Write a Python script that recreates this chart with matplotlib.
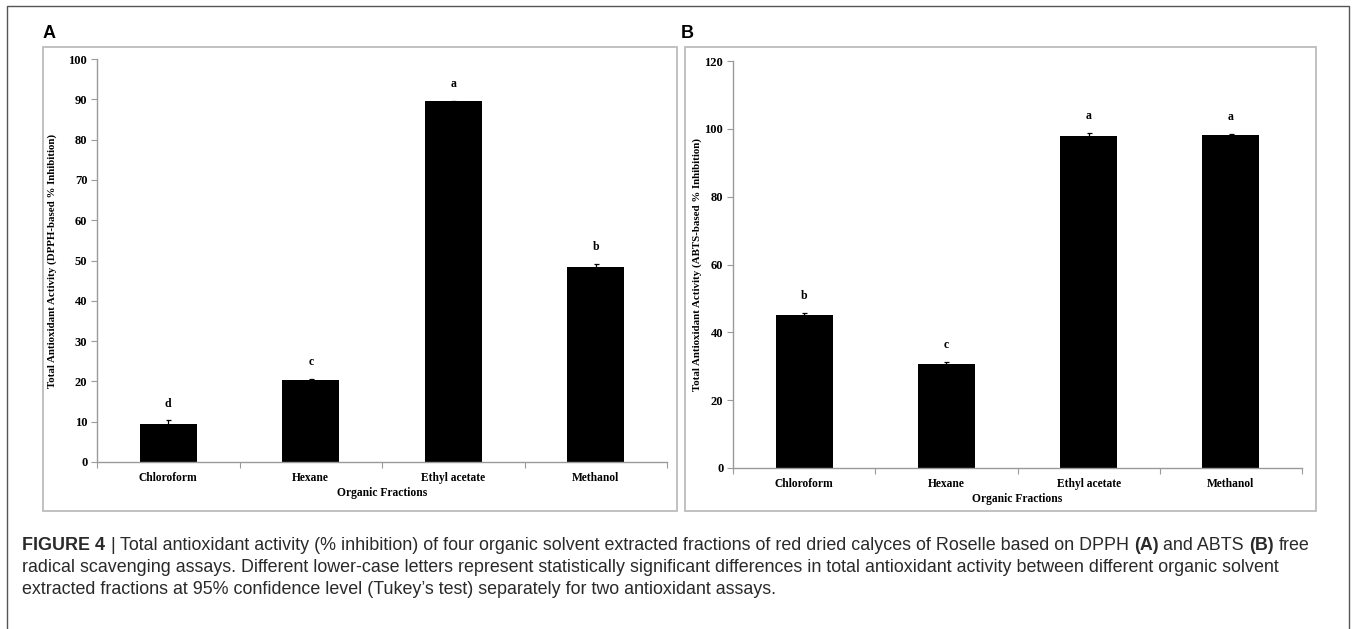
import matplotlib
matplotlib.use('Agg')
import matplotlib.pyplot as plt
from matplotlib import font_manager as fm
from matplotlib.patches import Rectangle
from matplotlib.lines import Line2D

# ---------------- data ----------------
categories = ['Chloroform', 'Hexane', 'Ethyl acetate', 'Methanol']
dpph_values = [9.4, 20.3, 89.5, 48.5]
dpph_errors = [0.9, 0.3, 0.2, 0.7]
dpph_letters = ['d', 'c', 'a', 'b']
abts_values = [45.1, 30.7, 97.8, 98.2]
abts_errors = [0.7, 0.6, 1.0, 0.4]
abts_letters = ['b', 'c', 'a', 'a']
dpph_yticks = list(range(0, 101, 10))
abts_yticks = list(range(0, 121, 20))
dpph_ylabel = 'Total Antioxidant Activity (DPPH-based % Inhibition)'
abts_ylabel = 'Total Antioxidant Activity (ABTS-based % Inhibition)'
xlabel_text = 'Organic Fractions'

W, H = 1357, 629
fig = plt.figure(figsize=(W / 100, H / 100), dpi=100)
fig.patch.set_facecolor('white')

SERIF = ['Liberation Serif', 'DejaVu Serif']
names = {f.name for f in fm.fontManager.ttflist}
CAP_FAMILY = 'Liberation Sans Narrow' if 'Liberation Sans Narrow' in names else 'Liberation Sans'


def px_axes(left, right, top, bottom):
    return fig.add_axes([left / W, 1 - bottom / H, (right - left) / W, (bottom - top) / H])


def draw_panel(ax, values, errors, letters, yticks, ylabel, ylabel_off):
    x = list(range(len(categories)))
    ax.bar(x, values, width=0.4, color='black', zorder=2,
           yerr=errors, error_kw=dict(ecolor='black', elinewidth=0.9, capsize=1.8, capthick=0.9))
    ax.set_xlim(-0.5, len(categories) - 0.5)
    ax.set_ylim(yticks[0], yticks[-1])
    for s in ['top', 'right']:
        ax.spines[s].set_visible(False)
    for s in ['left', 'bottom']:
        ax.spines[s].set_color('#9a9a9a')
        ax.spines[s].set_linewidth(1.0)
    ax.set_yticks(yticks)
    ax.set_yticklabels([str(t) for t in yticks], fontfamily=SERIF, fontweight='bold', fontsize=9)
    ax.tick_params(axis='y', direction='out', length=4, width=0.8, color='#9a9a9a', pad=3)
    ax.set_xticks(x)
    ax.set_xticklabels(categories, fontfamily=SERIF, fontweight='bold', fontsize=8.3)
    ax.tick_params(axis='x', which='major', length=0, pad=7)
    ax.set_xticks([i - 0.5 for i in range(len(categories) + 1)], minor=True)
    ax.tick_params(axis='x', which='minor', direction='out', length=4, width=0.8, color='#9a9a9a')
    for i, (v, e, l) in enumerate(zip(values, errors, letters)):
        ax.annotate(l, xy=(i, v + e), xytext=(0, 12), textcoords='offset points',
                    ha='center', va='center', fontfamily=SERIF, fontweight='bold', fontsize=8.5)
    ax.annotate(xlabel_text, xy=(0.5, 0), xycoords='axes fraction', xytext=(0, -22),
                textcoords='offset points', ha='center', va='center',
                fontfamily=SERIF, fontweight='bold', fontsize=8.3)
    ax.annotate(ylabel, xy=(0, 0.5), xycoords='axes fraction', xytext=(ylabel_off, 0),
                textcoords='offset points', ha='center', va='center', rotation=90,
                fontfamily=SERIF, fontweight='bold', fontsize=7.8)


axA = px_axes(97, 667, 59, 462)
draw_panel(axA, dpph_values, dpph_errors, dpph_letters, dpph_yticks, dpph_ylabel, -32)
axB = px_axes(733, 1302, 61, 468)
draw_panel(axB, abts_values, abts_errors, abts_letters, abts_yticks, abts_ylabel, -26)

# panel boxes
for (l, t, r, b) in [(43, 47, 677, 511), (685, 47, 1316, 511)]:
    fig.patches.append(Rectangle((l / W, 1 - b / H), (r - l) / W, (b - t) / H,
                                 transform=fig.transFigure, fill=False,
                                 edgecolor='#bcbcbc', linewidth=1.3, zorder=0))

# outer frame (open at bottom)
fig.lines.append(Line2D([7 / W, 7 / W, 1349 / W, 1349 / W], [0, 1 - 6 / H, 1 - 6 / H, 0],
                        transform=fig.transFigure, color='#555555', linewidth=1.0))

# panel letters
fig.text(43 / W, 1 - 34 / H, 'A', fontfamily=['Liberation Sans'], fontweight='bold',
         fontsize=13, ha='left', va='center')
fig.text(681 / W, 1 - 34 / H, 'B', fontfamily=['Liberation Sans'], fontweight='bold',
         fontsize=13, ha='left', va='center')

# caption
cap_lines = [
    [('FIGURE 4', True), ('|', False),
     ('Total antioxidant activity (% inhibition) of four organic solvent extracted fractions of red dried calyces of Roselle based on DPPH', False),
     ('(A)', True), ('and ABTS', False), ('(B)', True), ('free', False)],
    [('radical scavenging assays. Different lower-case letters represent statistically significant differences in total antioxidant activity between different organic solvent', False)],
    [('extracted fractions at 95% confidence level (Tukey\u2019s test) separately for two antioxidant assays.', False)],
]
cap_y = [545, 567, 589]
cap_color = '#2a2a2a'
renderer = fig.canvas.get_renderer()


def text_width(s, bold, size):
    t = fig.text(0, 0, s, fontfamily=[CAP_FAMILY], fontweight='bold' if bold else 'normal', fontsize=size)
    w = t.get_window_extent(renderer).width
    t.remove()
    return w


def line_width(pieces, size):
    sp = text_width('x x', False, size) - text_width('xx', False, size)
    return sum(text_width(s, b, size) for s, b in pieces) + sp * (len(pieces) - 1)


target = 1311 - 22
size = 10.0
size = size * target / line_width(cap_lines[0], size)

for pieces, y in zip(cap_lines, cap_y):
    sp = text_width('x x', False, size) - text_width('xx', False, size)
    x = 22
    for s, b in pieces:
        t = fig.text(x / W, 1 - y / H, s, fontfamily=[CAP_FAMILY], fontweight='bold' if b else 'normal',
                     fontsize=size, ha='left', va='center', color=cap_color)
        x += t.get_window_extent(renderer).width + sp

fig.savefig('out.png', dpi=100, facecolor='white')
